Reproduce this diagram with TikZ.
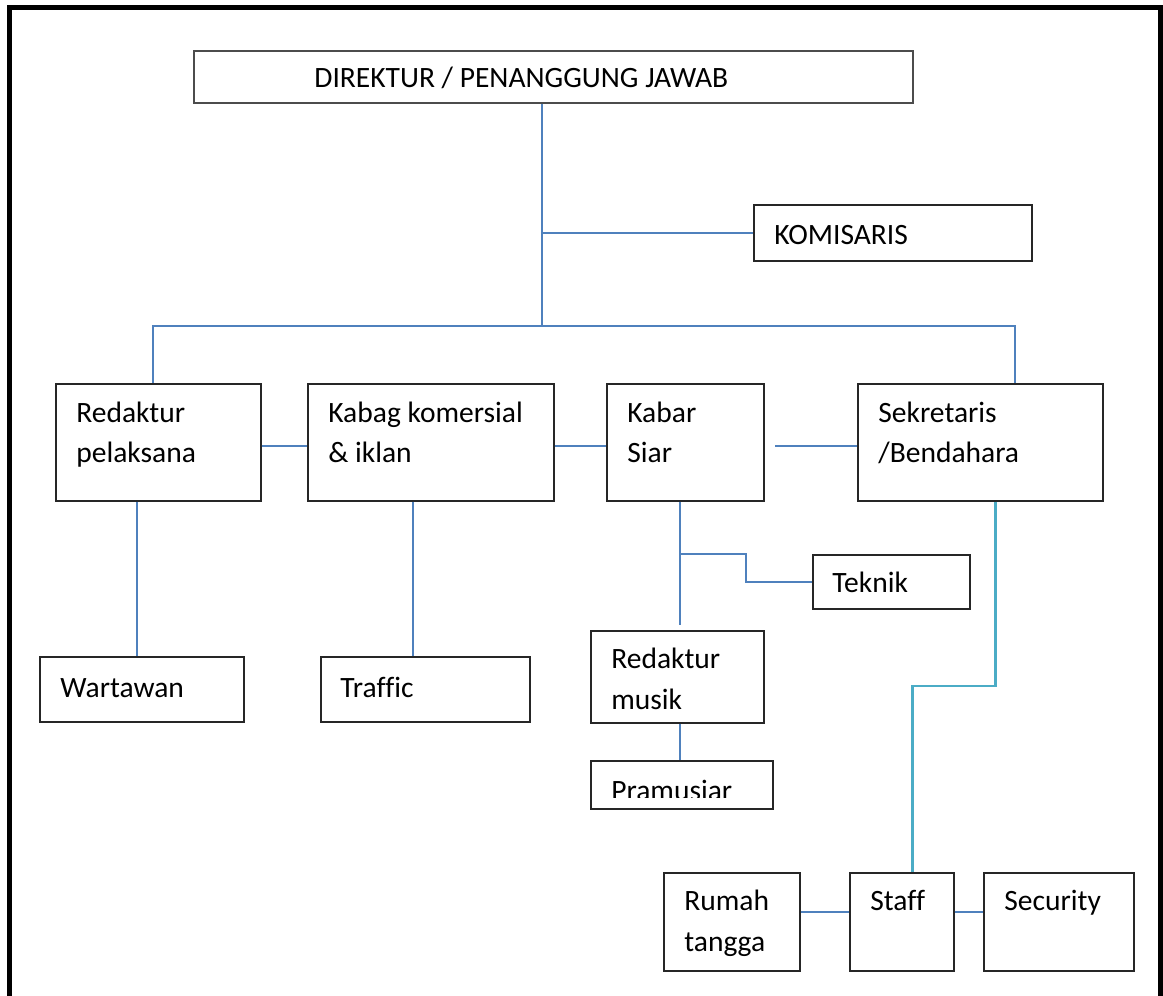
\documentclass[tikz,border=0pt]{standalone}
\usepackage{fontspec}
\setmainfont{Carlito}[Ligatures=NoCommon]
\usetikzlibrary{calc}

\definecolor{linkblue}{HTML}{4F81BD}
\definecolor{linkcyan}{HTML}{4BACC6}
\newcommand{\px}{0.02cm}
% [options]{name}{left}{top}{right}{bottom}
\newcommand{\OrgBox}[6][]{%
  \node[orgbox,minimum width={(#5-#3)*\px},minimum height={(#6-#4)*\px},#1] (#2) at (#3,#4) {};}

\tikzset{
  orgbox/.style={draw=black!85,line width=0.9pt,inner sep=0pt,anchor=north west},
  orgtext/.style={anchor=base west,align=left,inner sep=0pt,font=\fontsize{16.8}{23}\selectfont},
  link/.style={draw=linkblue,line width=1.2pt},
  linkc/.style={draw=linkcyan,line width=1.7pt}
}

\begin{document}
\begin{tikzpicture}[x=0.02cm,y=-0.02cm]
\useasboundingbox (0,0) rectangle (1163,996);
\draw[line width=2.85pt] (9.5,996) -- (9.5,7.5) -- (1160.5,7.5) -- (1160.5,996);

\OrgBox[draw=black!70,line width=1.1pt]{dir}{193}{50}{912}{102}
\OrgBox{kom}{753}{204}{1031}{260}
\OrgBox{red}{55}{383}{260}{500}
\OrgBox{kab}{307}{383}{553}{500}
\OrgBox{kabar}{606}{383}{763}{500}
\OrgBox{sek}{857}{383}{1102}{500}
\OrgBox{war}{39}{656}{243}{721}
\OrgBox{tra}{320}{656}{529}{721}
\OrgBox{tek}{812}{554}{969}{608}
\OrgBox{mus}{590}{630}{763}{722}
\OrgBox{pram}{590}{760}{772}{808}
\OrgBox{rum}{663}{872}{799}{970}
\OrgBox{sta}{849}{872}{953}{970}
\OrgBox{sec}{983}{872}{1133}{970}

% two-line labels sit on their last baseline
\node[orgtext] (dir-t) at (314,88) {DIREKTUR / PENANGGUNG JAWAB};
\node[orgtext] (kom-t) at (774,245) {KOMISARIS};
\node[orgtext] (red-t) at (76,463) {Redaktur\\pelaksana};
\node[orgtext] (kab-t) at (328,463) {Kabag komersial\\\& iklan};
\node[orgtext] (kabar-t) at (627,463) {Kabar\\Siar};
\node[orgtext] (sek-t) at (878,463) {Sekretaris\\/Bendahara};
\node[orgtext] (war-t) at (60,697) {Wartawan};
\node[orgtext] (tra-t) at (340,697) {Traffic};
\node[orgtext] (tek-t) at (832,592) {Teknik};
\node[orgtext] (mus-t) at (611,709) {Redaktur\\musik};
\begin{scope}
  \clip (590,760) rectangle (772,797);
  \node[orgtext] (pram-t) at (611,800) {Pramusiar};
\end{scope}
\node[orgtext] (rum-t) at (684,951) {Rumah\\tangga};
\node[orgtext] (sta-t) at (870,910) {Staff};
\node[orgtext] (sec-t) at (1004,910) {Security};

% connectors
\coordinate (trunk) at (542,326);
\coordinate (busL) at (153,326);
\coordinate (busR) at (1015,326);
\coordinate (row) at (0,446);
\coordinate (rowb) at (0,912);
\draw[link] (dir.south -| trunk) -- (trunk);
\draw[link] (kom.west) -- (kom.west -| trunk);
\draw[link] (red.north -| busL) -- (busL) -- (busR) -- (sek.north -| busR);
\draw[link] (red.east |- row) -- (kab.west |- row);
\draw[link] (kab.east |- row) -- (kabar.west |- row);
\draw[link] (775,446) coordinate (gap) -- (sek.west |- row);
\draw[link] (red.south -| 137,0) -- (war.north -| 137,0);
\draw[link] (kab.south -| 413,0) -- (tra.north -| 413,0);
\draw[link] (kabar.south -| 680,0) -- (680,625) coordinate (musend);
\draw[link] (680,554) -- (746,554) |- (tek.west);
\draw[link] (mus.south -| 680,0) -- (pram.north -| 680,0);
\draw[linkc] (sek.south -| 995,0) -- (995,686) -- (912,686) -- (sta.north -| 912,0);
\draw[link] (rum.east |- rowb) -- (sta.west |- rowb);
\draw[link] (sta.east |- rowb) -- (sec.west |- rowb);
\end{tikzpicture}
\end{document}
